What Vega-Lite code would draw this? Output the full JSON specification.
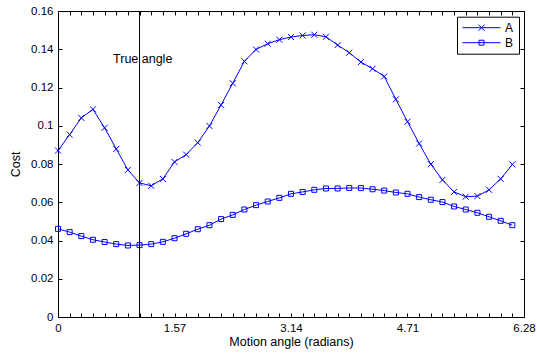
{
  "$schema": "https://vega.github.io/schema/vega-lite/v6.json",
  "width": 466,
  "height": 306,
  "autosize": {"type": "none"},
  "padding": {"left": 58, "top": 11, "right": 13, "bottom": 36},
  "background": "white",
  "config": {
    "font": "Liberation Sans",
    "view": {"stroke": null},
    "axis": {
      "grid": false,
      "domainColor": "black",
      "tickColor": "black",
      "labelColor": "black",
      "titleColor": "black",
      "labelFont": "Liberation Sans",
      "titleFont": "Liberation Sans",
      "labelFontSize": 11.5,
      "titleFontSize": 12.5,
      "titleFontWeight": "normal",
      "labelFlush": false,
      "labelOverlap": false,
      "tickSize": -4
    }
  },
  "datasets": {
    "curves": [
      {"series": "A", "angle": 0, "cost": 0.0870},
      {"series": "A", "angle": 0.15708, "cost": 0.0954},
      {"series": "A", "angle": 0.31416, "cost": 0.1041},
      {"series": "A", "angle": 0.47124, "cost": 0.1086},
      {"series": "A", "angle": 0.62832, "cost": 0.0989},
      {"series": "A", "angle": 0.7854, "cost": 0.0879},
      {"series": "A", "angle": 0.94248, "cost": 0.0769},
      {"series": "A", "angle": 1.09956, "cost": 0.0701},
      {"series": "A", "angle": 1.25664, "cost": 0.0686},
      {"series": "A", "angle": 1.41372, "cost": 0.0722},
      {"series": "A", "angle": 1.5708, "cost": 0.0811},
      {"series": "A", "angle": 1.72788, "cost": 0.0849},
      {"series": "A", "angle": 1.88496, "cost": 0.0912},
      {"series": "A", "angle": 2.04204, "cost": 0.0999},
      {"series": "A", "angle": 2.19911, "cost": 0.1109},
      {"series": "A", "angle": 2.35619, "cost": 0.1222},
      {"series": "A", "angle": 2.51327, "cost": 0.1337},
      {"series": "A", "angle": 2.67035, "cost": 0.1399},
      {"series": "A", "angle": 2.82743, "cost": 0.1429},
      {"series": "A", "angle": 2.98451, "cost": 0.1450},
      {"series": "A", "angle": 3.14159, "cost": 0.1464},
      {"series": "A", "angle": 3.29867, "cost": 0.1472},
      {"series": "A", "angle": 3.45575, "cost": 0.1476},
      {"series": "A", "angle": 3.61283, "cost": 0.1465},
      {"series": "A", "angle": 3.76991, "cost": 0.1422},
      {"series": "A", "angle": 3.92699, "cost": 0.1382},
      {"series": "A", "angle": 4.08407, "cost": 0.1333},
      {"series": "A", "angle": 4.24115, "cost": 0.1298},
      {"series": "A", "angle": 4.39823, "cost": 0.1258},
      {"series": "A", "angle": 4.55531, "cost": 0.1138},
      {"series": "A", "angle": 4.71239, "cost": 0.1021},
      {"series": "A", "angle": 4.86947, "cost": 0.0907},
      {"series": "A", "angle": 5.02655, "cost": 0.0799},
      {"series": "A", "angle": 5.18363, "cost": 0.0717},
      {"series": "A", "angle": 5.34071, "cost": 0.0654},
      {"series": "A", "angle": 5.49779, "cost": 0.0629},
      {"series": "A", "angle": 5.65487, "cost": 0.0632},
      {"series": "A", "angle": 5.81195, "cost": 0.0665},
      {"series": "A", "angle": 5.96903, "cost": 0.0722},
      {"series": "A", "angle": 6.12611, "cost": 0.0798},
      {"series": "B", "angle": 0, "cost": 0.0461},
      {"series": "B", "angle": 0.15708, "cost": 0.0444},
      {"series": "B", "angle": 0.31416, "cost": 0.0423},
      {"series": "B", "angle": 0.47124, "cost": 0.0404},
      {"series": "B", "angle": 0.62832, "cost": 0.0392},
      {"series": "B", "angle": 0.7854, "cost": 0.0381},
      {"series": "B", "angle": 0.94248, "cost": 0.0374},
      {"series": "B", "angle": 1.09956, "cost": 0.0376},
      {"series": "B", "angle": 1.25664, "cost": 0.0381},
      {"series": "B", "angle": 1.41372, "cost": 0.0393},
      {"series": "B", "angle": 1.5708, "cost": 0.0412},
      {"series": "B", "angle": 1.72788, "cost": 0.0435},
      {"series": "B", "angle": 1.88496, "cost": 0.0459},
      {"series": "B", "angle": 2.04204, "cost": 0.0480},
      {"series": "B", "angle": 2.19911, "cost": 0.0512},
      {"series": "B", "angle": 2.35619, "cost": 0.0534},
      {"series": "B", "angle": 2.51327, "cost": 0.0562},
      {"series": "B", "angle": 2.67035, "cost": 0.0585},
      {"series": "B", "angle": 2.82743, "cost": 0.0604},
      {"series": "B", "angle": 2.98451, "cost": 0.0623},
      {"series": "B", "angle": 3.14159, "cost": 0.0644},
      {"series": "B", "angle": 3.29867, "cost": 0.0654},
      {"series": "B", "angle": 3.45575, "cost": 0.0665},
      {"series": "B", "angle": 3.61283, "cost": 0.0672},
      {"series": "B", "angle": 3.76991, "cost": 0.0672},
      {"series": "B", "angle": 3.92699, "cost": 0.0675},
      {"series": "B", "angle": 4.08407, "cost": 0.0674},
      {"series": "B", "angle": 4.24115, "cost": 0.0668},
      {"series": "B", "angle": 4.39823, "cost": 0.0661},
      {"series": "B", "angle": 4.55531, "cost": 0.0651},
      {"series": "B", "angle": 4.71239, "cost": 0.0644},
      {"series": "B", "angle": 4.86947, "cost": 0.0627},
      {"series": "B", "angle": 5.02655, "cost": 0.0613},
      {"series": "B", "angle": 5.18363, "cost": 0.0601},
      {"series": "B", "angle": 5.34071, "cost": 0.0578},
      {"series": "B", "angle": 5.49779, "cost": 0.0562},
      {"series": "B", "angle": 5.65487, "cost": 0.0545},
      {"series": "B", "angle": 5.81195, "cost": 0.0524},
      {"series": "B", "angle": 5.96903, "cost": 0.0503},
      {"series": "B", "angle": 6.12611, "cost": 0.0480}
    ],
    "marker": [
      {"angle": 1.09956, "label_angle": 1.142, "cost": 0.1351, "label": "True angle"}
    ]
  },
  "layer": [
    {
      "data": {"name": "curves"},
      "mark": {"type": "line", "color": "#0000ff", "strokeWidth": 1},
      "encoding": {
        "x": {
          "field": "angle", "type": "quantitative",
          "scale": {"domain": [0, 6.28319], "nice": false, "zero": false},
          "axis": {
            "orient": "bottom",
            "title": "Motion angle (radians)",
            "values": [0, 0.15708, 0.31416, 0.47124, 0.62832, 0.7854, 0.94248, 1.09956, 1.25664, 1.41372, 1.5708, 1.72788, 1.88496, 2.04204, 2.19911, 2.35619, 2.51327, 2.67035, 2.82743, 2.98451, 3.14159, 3.29867, 3.45575, 3.61283, 3.76991, 3.92699, 4.08407, 4.24115, 4.39823, 4.55531, 4.71239, 4.86947, 5.02655, 5.18363, 5.34071, 5.49779, 5.65487, 5.81195, 5.96903, 6.12611, 6.28319],
            "labelExpr": "abs(datum.value/(PI/2) - round(datum.value/(PI/2))) < 0.001 ? (datum.value == 0 ? '0' : format(datum.value, '.2f')) : ''",
            "labelPadding": 9,
            "titlePadding": 2
          }
        },
        "y": {
          "field": "cost", "type": "quantitative",
          "scale": {"domain": [0, 0.16], "nice": false},
          "axis": {
            "orient": "left",
            "title": "Cost",
            "values": [0, 0.02, 0.04, 0.06, 0.08, 0.1, 0.12, 0.14, 0.16],
            "format": "~g",
            "labelPadding": 9,
            "titlePadding": 8
          }
        },
        "detail": {"field": "series", "type": "nominal"}
      }
    },
    {
      "data": {"name": "curves"},
      "mark": {"type": "point", "filled": false, "color": "#0000ff", "strokeWidth": 1, "opacity": 1, "size": 25},
      "encoding": {
        "x": {"field": "angle", "type": "quantitative", "axis": null},
        "y": {"field": "cost", "type": "quantitative", "axis": null},
        "shape": {
          "field": "series", "type": "nominal",
          "scale": {"domain": ["A", "B"], "range": ["M-1.2,-1.2L1.2,1.2M-1.2,1.2L1.2,-1.2", "square"]},
          "legend": null
        }
      }
    },
    {
      "data": {"name": "curves"},
      "transform": [{"filter": "false"}],
      "mark": {"type": "point", "filled": false, "color": "#0000ff", "strokeWidth": 1, "opacity": 1},
      "encoding": {
        "x": {"field": "angle", "type": "quantitative", "axis": null},
        "y": {"field": "cost", "type": "quantitative", "axis": null},
        "shape": {
          "field": "series", "type": "nominal",
          "scale": {"domain": ["A", "B"], "range": ["M-1,0L1,0M-0.16,-0.16L0.16,0.16M-0.16,0.16L0.16,-0.16", "M-1,0L1,0M-0.13,-0.13L0.13,-0.13L0.13,0.13L-0.13,0.13Z"]},
          "legend": {
            "title": null,
            "orient": "none",
            "legendX": 399,
            "legendY": 5.7,
            "strokeColor": "black",
            "fillColor": "white",
            "padding": 5,
            "rowPadding": 3,
            "clipHeight": 12,
            "symbolSize": 1444,
            "labelOffset": 4,
            "labelFontSize": 12,
            "labelFont": "Liberation Sans",
            "labelColor": "black",
            "symbolStrokeColor": "#0000ff",
            "symbolStrokeWidth": 1,
            "symbolFillColor": "transparent"
          }
        }
      }
    },
    {
      "data": {"name": "marker"},
      "mark": {"type": "rule", "color": "black", "strokeWidth": 1},
      "encoding": {
        "x": {
          "field": "angle", "type": "quantitative",
          "axis": {
            "orient": "top",
            "title": null,
            "labels": false,
            "values": [0, 0.15708, 0.31416, 0.47124, 0.62832, 0.7854, 0.94248, 1.09956, 1.25664, 1.41372, 1.5708, 1.72788, 1.88496, 2.04204, 2.19911, 2.35619, 2.51327, 2.67035, 2.82743, 2.98451, 3.14159, 3.29867, 3.45575, 3.61283, 3.76991, 3.92699, 4.08407, 4.24115, 4.39823, 4.55531, 4.71239, 4.86947, 5.02655, 5.18363, 5.34071, 5.49779, 5.65487, 5.81195, 5.96903, 6.12611, 6.28319]
          }
        }
      }
    },
    {
      "data": {"name": "marker"},
      "mark": {"type": "text", "color": "black", "font": "Liberation Sans", "fontSize": 12.5, "align": "center", "baseline": "middle"},
      "encoding": {
        "x": {"field": "label_angle", "type": "quantitative", "axis": null},
        "y": {
          "field": "cost", "type": "quantitative",
          "axis": {
            "orient": "right",
            "title": null,
            "labels": false,
            "values": [0, 0.02, 0.04, 0.06, 0.08, 0.1, 0.12, 0.14, 0.16]
          }
        },
        "text": {"field": "label", "type": "nominal"}
      }
    }
  ],
  "resolve": {
    "axis": {"x": "independent", "y": "independent"},
    "scale": {"shape": "independent"},
    "legend": {"shape": "independent"}
  }
}
